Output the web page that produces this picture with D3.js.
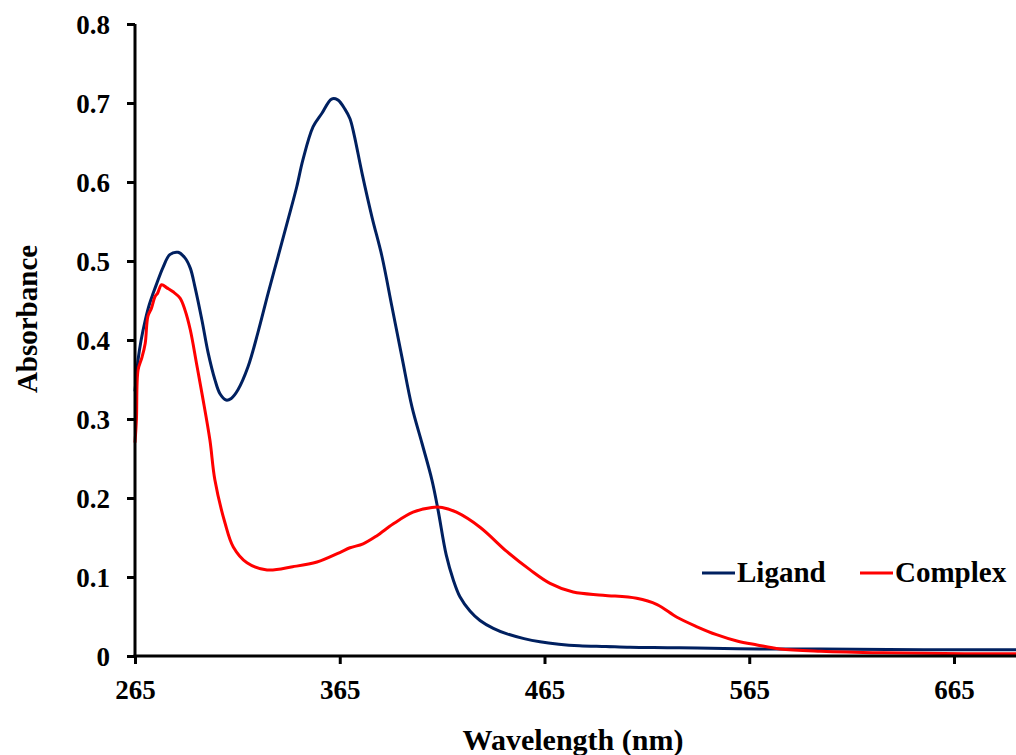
<!DOCTYPE html>
<html>
<head>
<meta charset="utf-8">
<script src="https://cdn.jsdelivr.net/npm/d3@7"></script>
<style>
	body { margin: 0; background: #fff; }
	svg { display: block; }
	.tick-label { font-family: "Liberation Serif", "Times New Roman", serif; font-weight: bold; font-size: 27px; fill: #000; }
	.title { font-family: "Liberation Serif", "Times New Roman", serif; font-weight: bold; font-size: 29px; fill: #000; }
</style>
</head>
<body>
<div id="uv_chart"></div>
<script>
// Wavelength (nm) / absorbance pairs
var ligandWl = [265, 266.5, 268, 270, 272, 274, 275.7, 278.7, 282, 286, 289.4, 292, 294.3, 297.7, 300.7, 304, 306.5, 309.5, 312, 315.3,
	320.2, 325, 330, 334.8, 339.7, 344, 347, 352, 356.3, 361, 364, 367.6, 370, 372, 375.9, 380.8, 385.6, 390.5, 395.4,
	400.3, 405.2, 410, 413, 417, 420.5, 423.7, 428.6, 433.5, 440, 446.7, 455, 462.8, 472, 482, 495, 506.8, 525, 539.5,
	570, 600, 650, 700];
var ligandAbs = [0.335, 0.375, 0.40, 0.425, 0.445, 0.46, 0.472, 0.492, 0.508, 0.511, 0.504, 0.491, 0.467, 0.425, 0.384, 0.35, 0.332, 0.324, 0.326, 0.337,
	0.366, 0.409, 0.459, 0.505, 0.552, 0.594, 0.628, 0.67, 0.687, 0.705, 0.704, 0.692, 0.68, 0.66, 0.611, 0.555, 0.506, 0.442, 0.378,
	0.315, 0.269, 0.223, 0.185, 0.128, 0.096, 0.075, 0.057, 0.045, 0.035, 0.028, 0.022, 0.018, 0.015, 0.013, 0.012, 0.011, 0.0105, 0.010,
	0.009, 0.009, 0.008, 0.008];

var complexWl = [265, 265.7, 266.5, 268.4, 270, 271.3, 273, 274.8, 276, 278, 280.6, 283.6, 287, 289.4, 292, 295, 298, 301.6, 304, 309,
	313, 319.7, 329.5, 342, 353.9, 365, 370, 376.4, 383, 391, 400.8, 410, 415, 422, 433.5, 446.7, 458, 467.7, 479, 493.6,
	510, 520, 529.7, 539.5, 549, 559, 568.8, 580, 600, 630, 670, 700];
var complexAbs = [0.27, 0.30, 0.362, 0.378, 0.396, 0.43, 0.44, 0.455, 0.459, 0.47, 0.466, 0.461, 0.453, 0.438, 0.413, 0.371, 0.328, 0.273, 0.223, 0.168,
	0.138, 0.118, 0.109, 0.113, 0.119, 0.131, 0.137, 0.142, 0.152, 0.167, 0.182, 0.188, 0.188, 0.182, 0.163, 0.132, 0.109, 0.092, 0.081, 0.077,
	0.073, 0.065, 0.049, 0.037, 0.027, 0.019, 0.014, 0.009, 0.006, 0.004, 0.003, 0.003];

var xTicks = [265, 365, 465, 565, 665];
var yTicks = [0, 0.1, 0.2, 0.3, 0.4, 0.5, 0.6, 0.7, 0.8];
var seriesNames = ["Ligand", "Complex"];
var seriesColors = ["#002060", "#ff0000"];

var width = 1016, height = 755;
var plotLeft = 135, plotTop = 24, plotBottom = 656;

var svg = d3.select("#uv_chart").append("svg")
	.attr("width", width)
	.attr("height", height);

var x = d3.scaleLinear()
	.domain([265, 700])
	.range([plotLeft, plotLeft + 435 * 2.0475]);

var y = d3.scaleLinear()
	.domain([0, 0.8])
	.range([plotBottom, plotTop]);

var line = d3.line()
	.x(function(d) { return x(d[0]); })
	.y(function(d) { return y(d[1]); })
	.curve(d3.curveCatmullRom.alpha(0.5));

var series = [
	d3.zip(ligandWl, ligandAbs),
	d3.zip(complexWl, complexAbs)
];

// curves
series.forEach(function(s, i) {
	svg.append("path")
		.datum(s)
		.attr("fill", "none")
		.attr("stroke", seriesColors[i])
		.attr("stroke-width", 3)
		.attr("stroke-linejoin", "round")
		.attr("d", line);
});

// x axis
var xAxis = svg.append("g")
	.attr("transform", "translate(0," + plotBottom + ")")
	.call(d3.axisBottom(x).tickValues(xTicks).tickSize(8).tickFormat(d3.format("d")));
xAxis.select(".domain").attr("stroke", "#000").attr("stroke-width", 3).attr("d", "M" + (plotLeft - 1.5) + ",0H" + width);
xAxis.selectAll(".tick line").attr("stroke", "#000").attr("stroke-width", 3);
xAxis.selectAll(".tick text")
	.attr("class", "tick-label")
	.attr("y", 43)
	.attr("dy", null);

// y axis
var yAxis = svg.append("g")
	.attr("transform", "translate(" + plotLeft + ",0)")
	.call(d3.axisLeft(y).tickValues(yTicks).tickSize(8).tickFormat(function(d) { return d === 0 ? "0" : d3.format(".1f")(d); }));
yAxis.select(".domain").attr("stroke", "#000").attr("stroke-width", 3).attr("d", "M0," + plotTop + "V" + (plotBottom + 1.5));
yAxis.selectAll(".tick line").attr("stroke", "#000").attr("stroke-width", 3);
yAxis.selectAll(".tick text")
	.attr("class", "tick-label")
	.attr("x", -25)
	.attr("dy", "0.34em");

// axis titles
svg.append("text")
	.attr("class", "title")
	.attr("text-anchor", "middle")
	.attr("x", 573)
	.attr("y", 750)
	.style("font-size", "30px")
	.text("Wavelength (nm)");

svg.append("text")
	.attr("class", "title")
	.attr("text-anchor", "middle")
	.attr("transform", "translate(37,319) rotate(-90)")
	.text("Absorbance");

// legend
var legendX = [702, 860];
var legend = svg.selectAll(".legend")
	.data(seriesNames)
	.enter().append("g")
	.attr("class", "legend")
	.attr("transform", function(d, i) { return "translate(" + legendX[i] + ",573)"; });
legend.append("line")
	.attr("x1", 0).attr("x2", 33)
	.attr("y1", 0).attr("y2", 0)
	.attr("stroke", function(d, i) { return seriesColors[i]; })
	.attr("stroke-width", 3);
legend.append("text")
	.attr("class", "title")
	.attr("x", 35)
	.attr("y", 9)
	.text(function(d) { return d; });
</script>
</body>
</html>
